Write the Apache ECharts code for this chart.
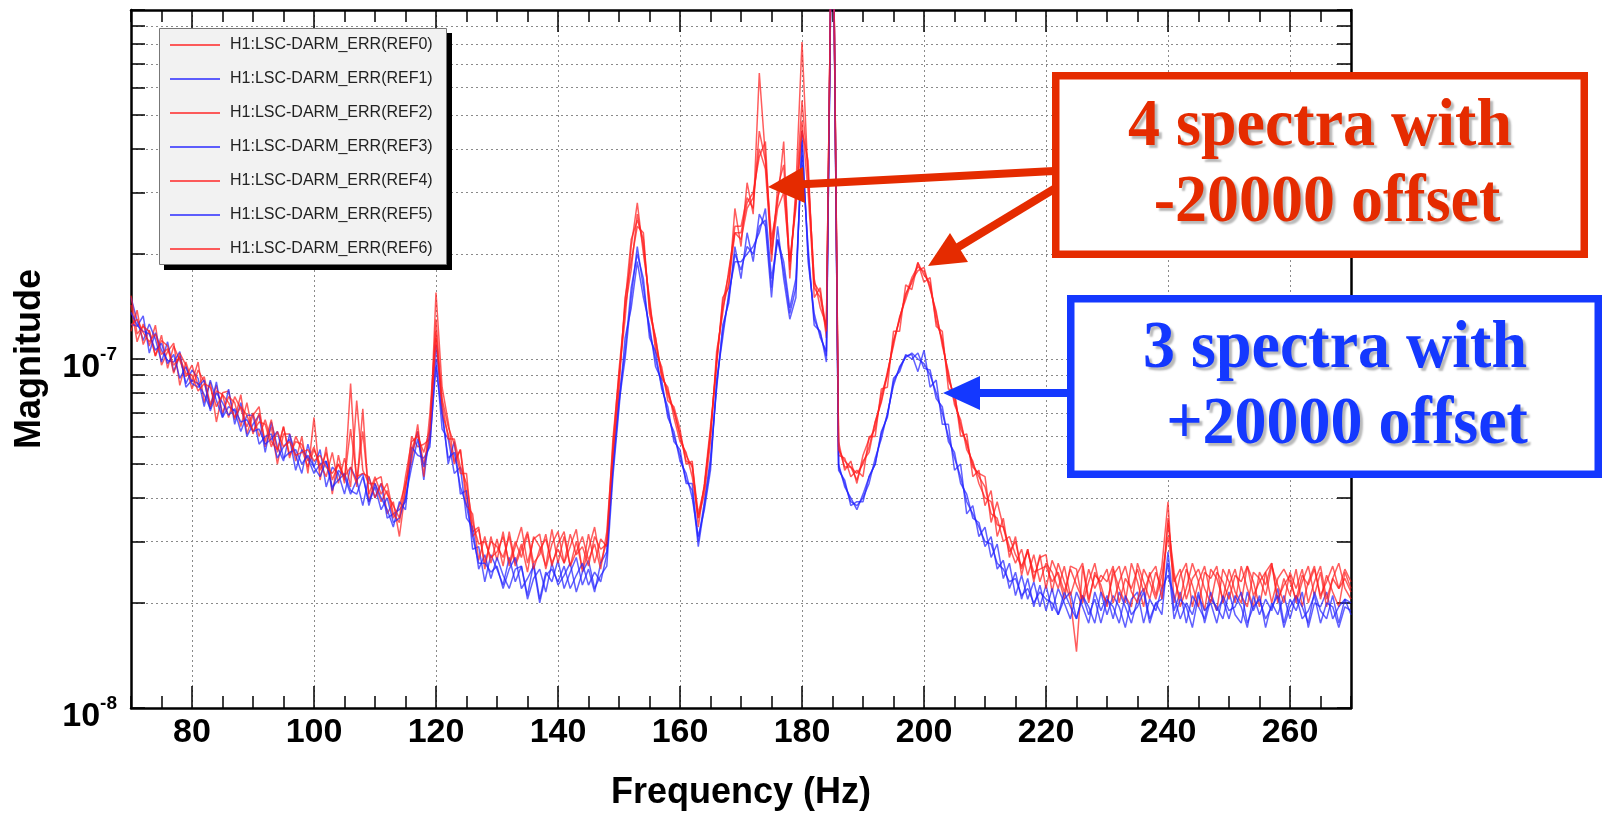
<!DOCTYPE html>
<html><head><meta charset="utf-8">
<script src="https://cdn.jsdelivr.net/npm/echarts@6/dist/echarts.min.js"></script>
<style>html,body{margin:0;padding:0;background:#fff;}#c{width:1602px;height:822px;}</style>
</head><body><div id="c"></div>
<script>
// Frequencies (Hz)
const FREQ = [
70,71,72,73,74,75,76,77,78,79,80,81,82,83,84,85,86,87,88,89,
90,91,92,93,94,95,96,97,98,99,100,101,102,103,104,105,106,107,108,109,
110,111,112,113,114,115,116,117,118,119,120,121,122,123,124,125,126,127,128,129,
130,131,132,133,134,135,136,137,138,139,140,141,142,143,144,145,146,147,148,149,
150,151,152,153,154,155,156,157,158,159,160,161,162,163,164,165,166,167,168,169,
170,171,172,173,174,175,176,177,178,179,180,181,182,183,184,185,186,187,188,189,
190,191,192,193,194,195,196,197,198,199,200,201,202,203,204,205,206,207,208,209,
210,211,212,213,214,215,216,217,218,219,220,221,222,223,224,225,226,227,228,229,
230,231,232,233,234,235,236,237,238,239,240,241,242,243,244,245,246,247,248,249,
250,251,252,253,254,255,256,257,258,259,260,261,262,263,264,265,266,267,268,269,270];

// Magnitudes, in units of 1e-8
const REF0 = [
14.3,11.2,12.6,10.9,12.5,9.6,10.5,11.1,8.4,9.8,
8.6,9.8,7.5,8.6,6.6,8.0,8.1,6.7,7.9,6.1,
6.9,7.3,5.6,6.4,5.0,6.1,6.1,5.1,6.0,4.7,
6.8,4.5,5.6,4.1,5.3,4.4,8.5,4.3,7.2,3.9,
4.5,4.6,3.6,3.9,3.1,4.2,6.0,5.6,5.7,5.9,
15.5,8.3,6.6,5.1,5.5,4.1,3.2,3.3,2.5,3.1,
2.65,3.2,2.55,2.9,3.3,2.6,3.05,3.15,2.5,2.95,
3.2,2.6,2.9,3.25,2.45,2.85,3.3,2.6,3.0,5.9,
9.0,13,21,28,20,15,10.5,9.5,7.6,7.3,
6.3,5.0,5.1,3.3,4.4,6.4,9.5,15,16,27,
21,32,26,66,38,22,28,42,17,31,
81,33,17,14,12.5,300,5.8,4.8,5.1,4.4,
5.3,5.9,6.3,7.9,9.0,11.3,12.9,15.4,16.5,18.9,
17.4,16.5,12.8,11.4,8.7,7.9,6.3,5.8,4.9,4.7,
4.6,3.4,3.9,3.3,2.8,3.0,2.5,2.85,2.35,2.7,
2.75,2.15,2.6,2.3,2.05,1.45,2.55,2.0,2.45,2.25,
1.95,2.5,2.2,2.0,2.6,2.3,1.95,2.45,2.1,2.55,
3.9,2.0,2.4,2.6,1.95,2.3,2.55,2.1,1.9,2.5,
2.3,2.0,2.55,2.2,1.95,2.45,2.25,2.6,2.0,2.35,
2.1,2.5,1.95,2.3,2.55,2.05,2.4,2.15,1.95,2.45,
2.2];
const REF1 = [
15.0,12.9,11.3,12.6,11.4,9.8,11.2,9.2,10.2,8.5,
9.3,8.8,7.3,8.7,7.6,6.8,8.2,6.5,7.5,6.0,
6.5,6.9,5.4,6.6,5.6,5.1,6.1,5.3,4.7,5.7,
4.9,5.5,4.3,4.9,4.7,4.1,4.9,4.5,3.8,4.6,
4.0,4.4,3.5,3.6,3.7,3.9,5.3,6.2,4.5,6.3,
11,7.2,5.0,5.8,4.1,4.2,2.85,2.9,2.3,2.75,
2.5,2.25,2.7,2.3,2.55,2.1,2.6,2.05,2.45,2.3,
2.65,2.2,2.45,2.7,2.25,2.5,2.15,2.6,2.8,5.0,
7.8,10.5,16,20,17,11.5,10.5,8.2,7.3,5.8,
5.5,4.4,4.4,3.0,3.9,5.2,8.2,12.5,14.5,21,
17,23,19,26,24,15,24,17,13,15,
45,19,13.5,11.5,10.5,300,5.0,4.3,4.0,3.7,
4.1,4.6,5.0,6.1,6.9,8.6,9.4,10.2,10.3,9.2,
10.6,8.3,8.7,6.5,6.5,4.8,5.0,3.6,3.8,3.1,
3.3,2.7,2.95,2.35,2.6,2.1,2.4,2.05,2.3,1.95,
2.25,1.9,2.2,2.0,1.8,2.15,1.95,1.75,2.15,1.9,
2.1,1.8,2.15,1.95,1.75,2.05,2.2,1.8,2.0,1.85,
2.8,1.9,2.15,1.75,2.1,1.95,1.8,2.15,1.9,2.05,
1.8,2.1,1.95,1.7,2.1,1.85,2.05,1.9,2.2,1.75,
2.05,1.9,2.15,1.7,2.0,1.95,2.15,1.8,1.95,2.05,
1.85];
const REF2 = [
12.0,13.8,11.0,12.1,10.2,11.7,9.4,10.9,9.9,8.9,
9.6,8.4,8.9,7.4,8.4,7.0,7.8,7.5,6.4,7.5,
6.1,7.0,5.8,6.7,5.4,6.4,5.2,6.0,5.5,4.9,
5.5,5.0,4.6,5.4,4.4,5.2,4.3,7.6,4.8,4.4,
4.4,3.9,4.2,3.5,3.8,4.4,5.1,6.5,4.6,7.0,
12,7.0,6.1,5.0,5.5,3.8,3.6,2.65,3.1,2.6,
3.05,2.55,3.2,2.6,2.95,2.45,3.1,2.9,2.55,3.25,
2.6,3.1,2.55,3.0,2.5,3.15,2.6,3.05,2.9,5.2,
8.2,15,19,24,23,13.5,11.5,8.8,8.3,6.8,
5.8,5.4,4.6,3.5,4.1,5.8,10.5,13.5,18,23,
23,28,30,38,42,19,31,36,19,28,
45,37,15,16,11.5,300,5.3,5.2,4.6,4.8,
4.6,6.0,6.0,8.2,8.3,12.0,12.0,16.3,15.8,18.9,
16.6,17.1,12.4,12.0,8.2,8.1,6.0,6.1,4.6,4.8,
3.8,4.2,3.1,3.5,2.7,3.1,2.4,2.85,2.3,2.75,
2.2,2.65,2.4,2.05,2.55,2.5,2.0,2.3,2.6,2.15,
2.0,2.4,2.55,2.1,1.95,2.6,2.3,2.05,2.45,2.2,
3.4,2.45,1.95,2.2,2.6,2.3,1.9,2.5,2.35,2.05,
2.5,2.15,2.0,2.55,2.3,1.95,2.45,2.6,2.05,2.25,
2.4,2.0,2.3,2.55,2.1,2.45,1.95,2.35,2.6,2.2,
2.05];
const REF3 = [
12.6,12.4,13.3,10.4,11.9,10.6,9.9,9.8,10.5,8.3,
8.7,8.5,7.9,7.2,8.6,6.8,7.3,7.1,6.2,6.9,
6.9,5.7,6.0,6.1,5.2,5.6,5.9,4.8,5.5,5.2,
4.7,5.0,5.1,4.2,4.8,4.6,4.1,4.5,4.7,3.8,
4.4,4.0,3.7,3.3,3.9,3.7,5.6,5.3,5.2,5.6,
10,6.3,5.9,4.7,4.9,3.5,3.3,2.5,2.75,2.35,
2.7,2.4,2.2,2.5,2.55,2.05,2.35,2.5,2.15,2.6,
2.25,2.4,2.6,2.15,2.45,2.65,2.2,2.4,2.55,4.6,
7.2,11.5,14,19,15,12.5,9.5,8.7,6.8,6.2,
5.1,4.7,4.0,3.1,3.7,4.8,8.7,11.5,15.5,19,
19,20,21,23,27,17,22,19,14,17,
38,21,12.5,12,9.8,300,4.8,4.5,3.8,3.9,
3.9,4.6,5.0,6.2,6.8,8.8,9.2,10.3,10.0,10.4,
9.4,9.3,7.7,7.3,5.8,5.4,4.4,4.1,3.5,3.4,
2.9,3.1,2.5,2.65,2.2,2.45,2.05,2.35,1.95,2.25,
1.9,2.2,1.85,2.05,2.15,1.8,2.1,1.95,1.75,2.15,
1.85,2.1,1.95,1.7,2.05,2.15,1.75,2.05,1.9,2.2,
2.4,2.1,1.8,2.0,1.85,2.15,1.75,2.05,1.95,1.8,
2.15,1.85,1.75,2.15,1.9,2.1,1.7,2.0,1.85,2.1,
1.8,2.1,1.95,1.75,2.15,1.9,1.8,2.1,1.75,2.05,
2.0];
const REF4 = [
15.2,11.8,12.4,12.0,10.2,11.3,10.9,9.1,10.4,9.6,
8.2,9.3,8.6,7.3,8.1,7.9,6.8,7.8,7.2,6.4,
7.0,6.0,6.7,5.8,5.5,6.4,5.3,5.8,5.7,5.1,
5.6,4.8,5.4,4.5,5.0,4.6,4.9,4.4,6.2,4.1,
4.6,4.1,4.4,3.6,3.4,4.3,5.5,6.2,5.0,6.0,
11.5,7.7,6.4,5.7,4.7,4.7,3.1,3.25,2.6,3.0,
2.9,2.7,3.1,2.55,2.85,3.2,2.6,2.75,3.15,2.55,
2.95,3.2,2.55,2.8,3.1,2.65,2.95,2.5,3.2,5.6,
9.3,14,18,26,21,14.5,11,9.2,7.9,7.1,
6.1,5.1,5.0,3.6,4.3,6.2,9.8,14.5,17.5,24,
24,29,27,45,37,21,29,33,18,29,
55,34,16.5,15.5,12.2,300,5.6,4.9,4.9,4.5,
5.1,5.4,6.6,7.6,9.2,10.9,13.2,14.8,16.8,17.9,
18.3,15.8,13.7,10.9,9.2,7.4,6.7,5.5,5.1,4.4,
4.0,3.9,3.35,3.3,2.9,2.6,2.85,2.4,2.75,2.3,
2.6,2.45,2.2,2.55,2.1,2.4,2.6,2.05,2.4,2.3,
2.5,2.0,2.3,2.55,2.15,2.0,2.5,2.3,2.05,2.4,
3.1,2.35,2.05,2.5,2.25,1.95,2.45,2.35,2.55,2.0,
2.25,2.5,2.1,1.95,2.45,2.35,2.1,2.55,2.25,2.0,
2.45,2.2,2.5,2.0,2.3,2.55,2.05,2.35,2.2,2.5,
2.3];
const REF5 = [
13.6,12.5,12.0,11.8,10.6,11.1,9.7,10.3,8.8,9.5,
8.5,8.3,8.7,7.1,8.0,7.5,6.9,7.2,6.6,6.7,
6.2,6.3,5.7,5.9,6.2,5.2,5.4,5.5,5.0,5.3,
4.9,4.6,5.1,4.3,4.5,4.7,4.2,4.1,4.6,3.9,
4.3,3.7,4.0,3.4,3.5,4.0,4.9,5.9,4.9,5.8,
9.5,6.9,5.2,5.4,4.3,3.8,3.1,2.6,2.6,2.45,
2.55,2.2,2.5,2.7,2.2,2.35,2.55,2.0,2.4,2.5,
2.3,2.55,2.2,2.4,2.6,2.25,2.45,2.3,2.75,4.8,
7.5,10,15,21,16,12,10,8.4,7.0,6.0,
5.3,4.5,4.2,2.9,3.8,5.0,8.4,12,15,20,
18,21,20,24,25,16,22,18,13.5,16,
42,20,13,11.8,10.2,300,4.9,4.4,3.9,3.8,
4.0,4.4,5.2,5.9,7.0,8.4,9.5,10.1,10.4,10.0,
9.7,9.0,8.0,7.0,6.0,5.2,4.6,3.9,3.6,3.3,
3.0,2.95,2.6,2.5,2.3,2.35,2.1,2.2,2.0,2.15,
2.05,2.0,1.85,2.15,1.95,1.8,2.1,1.85,2.05,1.75,
2.05,1.95,1.75,2.1,1.85,1.95,2.15,1.75,2.0,2.05,
2.6,1.8,2.05,1.95,1.7,2.1,1.9,2.0,1.75,2.1,
1.9,1.95,2.15,1.75,1.95,2.05,1.8,1.95,2.1,1.7,
1.95,2.1,1.8,1.9,2.1,1.75,2.0,1.95,1.7,1.95,
1.9];
const REF6 = [
12.5,13.0,11.9,11.2,11.8,10.3,10.7,9.6,10.1,9.1,
9.0,8.1,8.5,8.3,7.3,7.9,7.5,6.8,7.3,6.9,
6.2,6.6,6.5,5.6,6.2,5.6,5.8,5.3,5.4,5.5,
5.1,5.3,4.9,4.7,5.0,4.5,6.3,4.6,4.7,4.6,
4.0,4.4,4.1,3.8,3.5,4.6,5.8,6.0,5.4,6.3,
13,7.5,5.9,5.9,4.9,4.4,3.4,2.95,3.0,2.7,
2.8,3.1,2.6,3.0,2.7,3.15,2.5,2.85,3.05,2.6,
2.85,2.6,3.15,2.75,2.9,2.55,3.1,2.85,2.95,5.4,
8.7,14.5,22,25,22,14,11.5,9.0,8.1,7.1,
6.0,5.3,4.9,3.5,4.3,6.1,10,14,16.5,23,
22,27,29,40,35,20,27,30,19,27,
48,30,16,15,12,300,5.5,5.1,4.9,4.7,
5.0,5.6,6.6,7.5,9.0,11.2,13.1,15.2,17.1,18.4,
17.8,16.1,13.4,11.2,9.0,7.6,6.5,5.7,5.0,4.6,
4.3,3.6,3.5,3.0,3.1,2.75,2.55,2.8,2.45,2.5,
2.55,2.3,2.45,2.15,2.5,2.25,2.05,2.5,2.2,2.4,
2.3,2.55,2.0,2.35,2.2,2.5,2.15,2.4,2.55,2.05,
3.5,2.3,2.5,2.05,2.35,2.5,2.2,2.0,2.45,2.3,
2.05,2.4,2.3,2.55,2.1,2.3,2.45,2.0,2.35,2.5,
2.3,2.05,2.4,2.25,2.5,2.1,2.3,2.55,2.2,2.35,
2.15];

const SERIES_NAMES = ['H1:LSC-DARM_ERR(REF0)','H1:LSC-DARM_ERR(REF1)','H1:LSC-DARM_ERR(REF2)',
  'H1:LSC-DARM_ERR(REF3)','H1:LSC-DARM_ERR(REF4)','H1:LSC-DARM_ERR(REF5)','H1:LSC-DARM_ERR(REF6)'];
const SERIES_VALUES = [REF0, REF1, REF2, REF3, REF4, REF5, REF6];
const SERIES_GROUP = ['red','blue','red','blue','red','blue','red'];

const X_LABELS = [80,100,120,140,160,180,200,220,240,260];
const Y_TICKS = [1,2,3,4,5,6,7,8,9,10,20,30,40,50,60,70,80,90,100];
const Y_LABELS = [1,10];
const Y_UNIT_EXP = -8;   // data are in units of 1e-8

const COLORS = { red: 'rgba(255,30,30,0.72)', blue: 'rgba(35,35,255,0.72)' };
const AX = '#000';
const SANS = '"Liberation Sans", Arial, Helvetica, sans-serif';
const SERIF = '"Liberation Serif", "Times New Roman", serif';
const RED = '#e52b00', BLUE = '#1438ff';

const chart = echarts.init(document.getElementById('c'), null, { renderer: 'canvas' });

const series = SERIES_VALUES.map((vals, k) => ({
  type: 'line',
  name: SERIES_NAMES[k],
  data: FREQ.map((f, i) => [f, vals[i]]),
  xAxisIndex: 0, yAxisIndex: 0,
  symbol: 'none', showSymbol: false,
  color: COLORS[SERIES_GROUP[k]],
  lineStyle: { width: 1.5, color: COLORS[SERIES_GROUP[k]] },
  clip: true, z: 2
}));

const gridDots = { type: [2, 3], color: '#8a8a8a', width: 1 };
const txtShadow = { textShadowColor: 'rgba(0,0,0,0.28)', textShadowOffsetX: 3, textShadowOffsetY: 3, textShadowBlur: 2 };

const option = {
  animation: false,
  backgroundColor: '#fff',
  grid: { left: 131, top: 10, width: 1220, height: 698, containLabel: false },
  legend: {
    orient: 'vertical', left: 170, top: 36, itemWidth: 50, itemHeight: 2, itemGap: 16,
    icon: 'rect', selectedMode: false, z: 10, padding: 0,
    textStyle: { fontFamily: SANS, fontSize: 16, color: '#222', lineHeight: 18, padding: [0, 0, 0, 5] },
    data: SERIES_NAMES
  },
  xAxis: [
    { type: 'value', min: 70, max: 270, interval: 5, position: 'bottom',
      axisLine: { show: true, onZero: false, lineStyle: { color: AX, width: 2.5 } },
      axisTick: { show: true, inside: true, length: 12, lineStyle: { color: AX, width: 1.5 } },
      axisLabel: { formatter: v => (X_LABELS.indexOf(v) >= 0 ? String(v) : ''),
        fontFamily: SANS, fontSize: 34, fontWeight: 'bold', color: '#000', margin: 8, lineHeight: 34 },
      splitLine: { show: false },
      name: 'Frequency (Hz)', nameLocation: 'middle', nameGap: 67,
      nameTextStyle: { fontFamily: SANS, fontSize: 36, fontWeight: 'bold', color: '#000' } },
    { type: 'value', min: 70, max: 270, position: 'bottom',
      axisLine: { show: false }, axisLabel: { show: false },
      axisTick: { show: true, inside: true, length: 22, customValues: X_LABELS, lineStyle: { color: AX, width: 1.5 } },
      splitLine: { show: true, lineStyle: gridDots } },
    { type: 'value', min: 70, max: 270, interval: 5, position: 'top',
      axisLine: { show: true, onZero: false, lineStyle: { color: AX, width: 2.5 } },
      axisTick: { show: true, inside: true, length: 12, lineStyle: { color: AX, width: 1.5 } },
      axisLabel: { show: false }, splitLine: { show: false } },
    { type: 'value', min: 70, max: 270, position: 'top',
      axisLine: { show: false }, axisLabel: { show: false },
      axisTick: { show: true, inside: true, length: 22, customValues: X_LABELS, lineStyle: { color: AX, width: 1.5 } },
      splitLine: { show: false } }
  ],
  yAxis: [
    { type: 'log', logBase: 10, min: 1, max: 100, position: 'left',
      axisLine: { show: true, onZero: false, lineStyle: { color: AX, width: 2.5 } },
      axisTick: { show: true, inside: true, length: 14, customValues: Y_TICKS, lineStyle: { color: AX, width: 1.5 } },
      axisLabel: { customValues: Y_LABELS, margin: 14, padding: [12, 0, 0, 0],
        formatter: v => '{m|10}{s|' + (Math.round(Math.log10(v)) + Y_UNIT_EXP) + '}',
        rich: {
          m: { fontFamily: SANS, fontSize: 34, fontWeight: 'bold', color: '#000', lineHeight: 40, verticalAlign: 'bottom' },
          s: { fontFamily: SANS, fontSize: 19, fontWeight: 'bold', color: '#000', lineHeight: 22, verticalAlign: 'top' }
        } },
      splitLine: { show: true, lineStyle: gridDots },
      name: 'Magnitude', nameLocation: 'middle', nameGap: 83, nameRotate: 90,
      nameTextStyle: { fontFamily: SANS, fontSize: 36, fontWeight: 'bold', color: '#000' } },
    { type: 'log', logBase: 10, min: 1, max: 100, position: 'right',
      axisLine: { show: true, onZero: false, lineStyle: { color: AX, width: 2.5 } },
      axisTick: { show: true, inside: true, length: 14, customValues: Y_TICKS, lineStyle: { color: AX, width: 1.5 } },
      axisLabel: { show: false }, splitLine: { show: false } }
  ],
  series: series,
  graphic: [
    // legend frame with shadow
    { type: 'rect', z: 6, shape: { x: 164, y: 33, width: 288, height: 237 }, style: { fill: '#000' } },
    { type: 'rect', z: 7, shape: { x: 159.5, y: 28.5, width: 287, height: 236 }, style: { fill: '#f2f2f2', stroke: '#777', lineWidth: 1 } },
    // red annotation
    { type: 'line', z: 20, shape: { x1: 1054, y1: 171, x2: 798, y2: 184.5 }, style: { stroke: RED, lineWidth: 8 } },
    { type: 'polygon', z: 20, shape: { points: [[768, 187], [805, 203], [803, 167]] }, style: { fill: RED } },
    { type: 'line', z: 20, shape: { x1: 1054, y1: 189, x2: 955, y2: 249 }, style: { stroke: RED, lineWidth: 8 } },
    { type: 'polygon', z: 20, shape: { points: [[928, 266], [968, 262], [950, 233]] }, style: { fill: RED } },
    { type: 'rect', z: 21, shape: { x: 1055.75, y: 75.75, width: 528.5, height: 178.5 }, style: { fill: '#fff', stroke: RED, lineWidth: 7.5 } },
    { type: 'text', z: 22, x: 1320, y: 128, scaleY: 1.05,
      style: Object.assign({ text: '4 spectra with', fontFamily: SERIF, fontSize: 64, fontWeight: 'bold', fill: RED, align: 'center', verticalAlign: 'middle' }, txtShadow) },
    { type: 'text', z: 22, x: 1327, y: 204, scaleY: 1.05,
      style: Object.assign({ text: '-20000 offset', fontFamily: SERIF, fontSize: 64, fontWeight: 'bold', fill: RED, align: 'center', verticalAlign: 'middle' }, txtShadow) },
    // blue annotation
    { type: 'line', z: 20, shape: { x1: 1070, y1: 393, x2: 976, y2: 393 }, style: { stroke: BLUE, lineWidth: 8 } },
    { type: 'polygon', z: 20, shape: { points: [[943, 393], [980, 376], [980, 410]] }, style: { fill: BLUE } },
    { type: 'rect', z: 21, shape: { x: 1070.75, y: 298.75, width: 527.5, height: 175.5 }, style: { fill: '#fff', stroke: BLUE, lineWidth: 7.5 } },
    { type: 'text', z: 22, x: 1335, y: 350, scaleY: 1.05,
      style: Object.assign({ text: '3 spectra with', fontFamily: SERIF, fontSize: 64, fontWeight: 'bold', fill: BLUE, align: 'center', verticalAlign: 'middle' }, txtShadow) },
    { type: 'text', z: 22, x: 1347, y: 426, scaleY: 1.05,
      style: Object.assign({ text: '+20000 offset', fontFamily: SERIF, fontSize: 64, fontWeight: 'bold', fill: BLUE, align: 'center', verticalAlign: 'middle' }, txtShadow) }
  ]
};
chart.setOption(option);
</script>
</body></html>
